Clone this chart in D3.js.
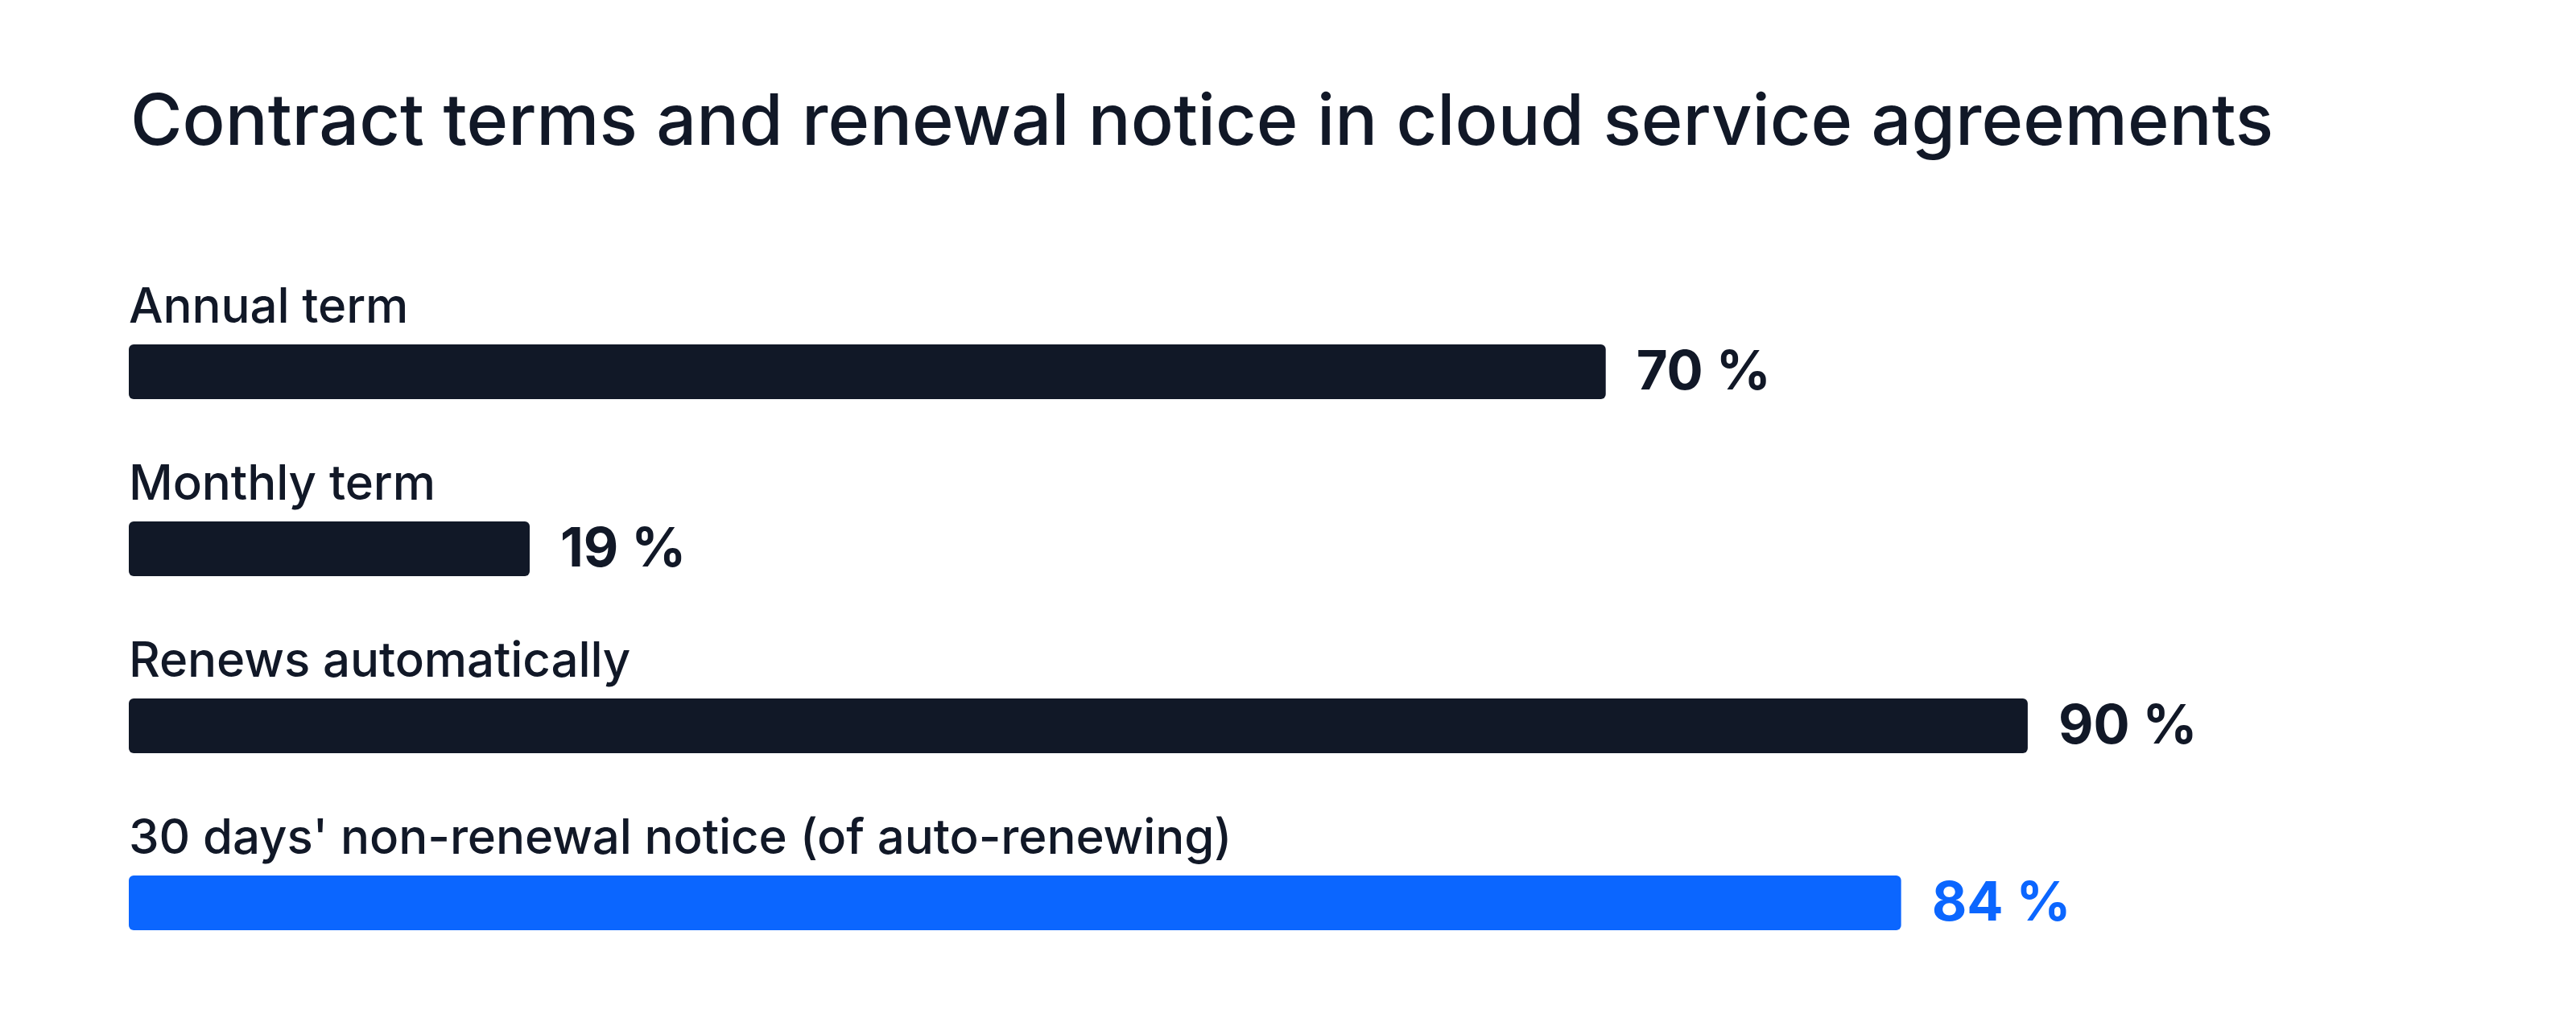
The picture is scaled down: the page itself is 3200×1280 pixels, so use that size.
<!DOCTYPE html>
<html>
<head>
<meta charset="utf-8">
<script src="https://cdn.jsdelivr.net/npm/d3@7"></script>
<style>
  html, body { margin: 0; padding: 0; background: #ffffff; }
  svg { display: block; font-family: Inter, "Noto Sans", sans-serif; }
</style>
</head>
<body>
<script>
var titleText = 'Contract terms and renewal notice in cloud service agreements';
var categories = ['Annual term', 'Monthly term', 'Renews automatically', "30 days' non-renewal notice (of auto-renewing)"];
var values = [70, 19, 90, 84];
var highlighted = [false, false, false, true];

var width = 3200, height = 1280;
var dark = '#111827', blue = '#0b66ff';

var svg = d3.select('body')
  .append('svg')
    .attr('width', width)
    .attr('height', height);

// title
svg.append('text')
  .attr('x', 162)
  .attr('y', 180)
  .attr('font-size', 88)
  .attr('font-weight', 500)
  .attr('fill', dark)
  .text(titleText);

var x = d3.scaleLinear().domain([0, 100]).range([160, 2781]);
var y = d3.scaleBand().domain(categories).range([340, 1220]);

var rows = svg.selectAll('g.row')
  .data(categories)
  .enter().append('g')
    .attr('class', 'row')
    .attr('transform', function(d) { return 'translate(0,' + y(d) + ')'; });

// category label above each bar
rows.append('text')
  .attr('x', x(0))
  .attr('y', 61)
  .attr('font-size', 60)
  .attr('font-weight', 500)
  .attr('letter-spacing', -0.1)
  .attr('fill', dark)
  .text(function(d) { return d; });

// bar
rows.append('rect')
  .attr('x', x(0))
  .attr('y', 88)
  .attr('height', 68)
  .attr('width', function(d, i) { return x(values[i]) - x(0); })
  .attr('rx', 6)
  .attr('fill', function(d, i) { return highlighted[i] ? blue : dark; });

// value label
rows.append('text')
  .attr('x', function(d, i) { return x(values[i]) + 38; })
  .attr('y', 144)
  .attr('font-size', 67)
  .attr('font-weight', 700)
  .attr('fill', function(d, i) { return highlighted[i] ? blue : dark; })
  .text(function(d, i) { return values[i] + ' %'; });
</script>
</body>
</html>
